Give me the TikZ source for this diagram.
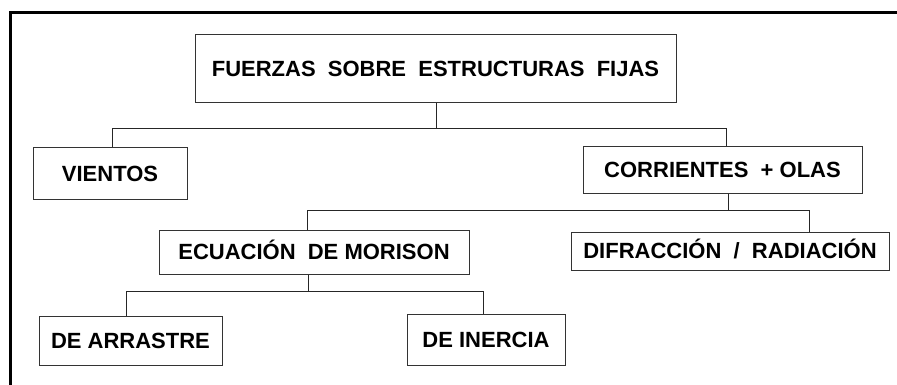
\documentclass[tikz,border=0pt]{standalone}
\usepackage{fontspec}
\setmainfont{Liberation Sans}
\begin{document}
\begin{tikzpicture}[x=1pt,y=-1pt,
  box/.style={draw=black!80, line width=1pt, rectangle, inner sep=0pt,
    font=\fontsize{22}{26}\selectfont\bfseries, align=center,
    text height=15.8pt, text depth=0pt},
  link/.style={draw=black!85, line width=1pt},
  framebar/.style={line width=3pt, line join=miter}]
\useasboundingbox (0,0) rectangle (897,385);
\fill[white] (0,0) rectangle (897,385);
\draw[framebar] (10.5,385) -- (10.5,12.5) -- (897,12.5);

\node[box, minimum width=481pt, minimum height=68pt] (top) at (435.5,69) {FUERZAS\ \ SOBRE\ \ ESTRUCTURAS\ \ FIJAS};
\node[box, minimum width=154pt, minimum height=51pt] (vientos) at (110,173.5) {VIENTOS};
\node[box, minimum width=279pt, minimum height=46pt] (corr) at (722.5,170) {CORRIENTES\ \ + OLAS};
\node[box, minimum width=310pt, minimum height=44pt] (ecu) at (314,252) {ECUACIÓN\ \ DE MORISON};
\node[box, minimum width=318pt, minimum height=38pt] (dif) at (730,251) {DIFRACCIÓN\ \ /\ \ RADIACIÓN};
\node[box, minimum width=183pt, minimum height=49pt] (arr) at (130.5,340.5) {DE ARRASTRE};
\node[box, minimum width=158pt, minimum height=51pt] (ine) at (486,339.5) {DE INERCIA};

% level 1
\coordinate (b1) at (436.7,128.7);
\draw[link] (top.south -| b1) -- (b1);
\draw[link] ([xshift=2pt]vientos.north) |- (b1) -| ([xshift=3.5pt]corr.north);

% level 2
\coordinate (b2) at (728.7,210.7);
\draw[link] (corr.south -| b2) -- (b2);
\draw[link] ([xshift=-7pt]ecu.north) |- (b2) -| ([xshift=79.7pt]dif.north);

% level 3
\coordinate (b3) at (308.7,291.3);
\draw[link] (ecu.south -| b3) -- (b3);
\draw[link] ([xshift=-4.5pt]arr.north) |- (b3) -| ([xshift=-2.3pt]ine.north);
\end{tikzpicture}
\end{document}
